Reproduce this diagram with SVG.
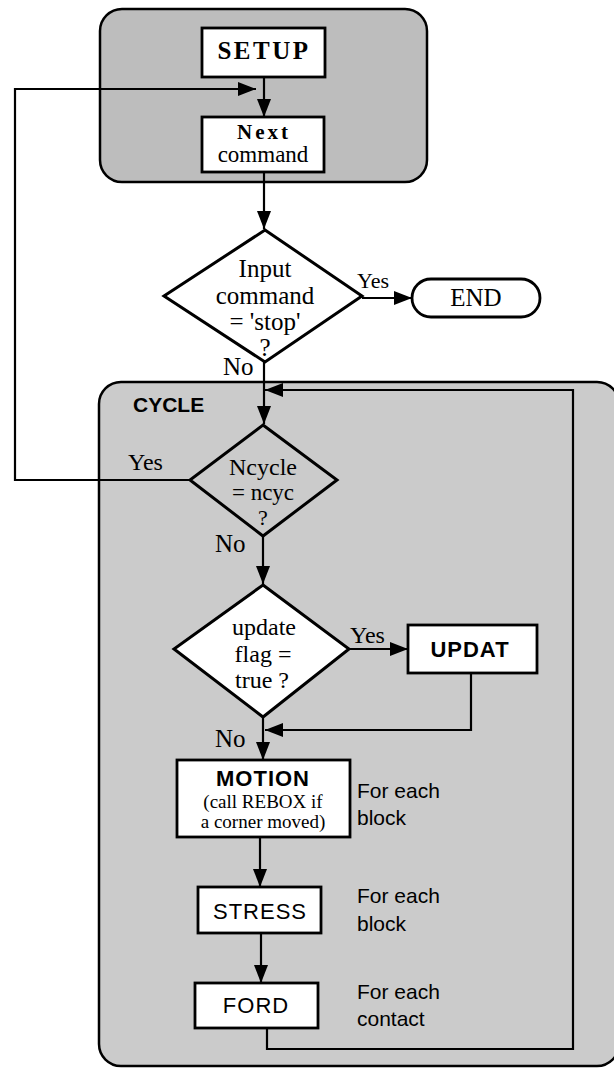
<svg xmlns="http://www.w3.org/2000/svg" width="614" height="1068" viewBox="0 0 614 1068">
<style>
.grp{stroke:#000;stroke-width:2.5}
.box{fill:#fff;stroke:#000;stroke-width:2.8}
.dia{fill:#fff;stroke:#000;stroke-width:3}
.con{fill:none;stroke:#000;stroke-width:2.2}
.serif{font-family:"Liberation Serif","Times New Roman",serif;fill:#000}
.sans{font-family:"Liberation Sans",Arial,sans-serif;fill:#000}
.c{text-anchor:middle}
</style>
<defs>
<marker id="arr" markerUnits="userSpaceOnUse" markerWidth="19" markerHeight="14" refX="18" refY="7" orient="auto">
<path d="M0,0 L18,7 L0,14 z" fill="#000"/>
</marker>
</defs>

<g id="setup-group">
<rect class="grp" x="100" y="9" width="327" height="173" rx="22" fill="#bdbdbd"/>
</g>
<g id="cycle-group">
<rect class="grp" x="99" y="382" width="520" height="684" rx="22" fill="#cbcbcb"/>
<text class="sans" x="133" y="412" font-size="21" font-weight="bold">CYCLE</text>
</g>

<g id="connectors">
<path class="con" d="M264,77 L264,117" marker-end="url(#arr)"/>
<path class="con" d="M190,480 L15,480 L15,89 L256,89" marker-end="url(#arr)"/>
<path class="con" d="M264,172 L264,229" marker-end="url(#arr)"/>
<path class="con" d="M362,298 L412,298" marker-end="url(#arr)"/>
<path class="con" d="M264,362 L264,424" marker-end="url(#arr)"/>
<path class="con" d="M267,1028 L267,1049 L573,1049 L573,390 L265,390" marker-end="url(#arr)"/>
<path class="con" d="M263,536 L263,584" marker-end="url(#arr)"/>
<path class="con" d="M349,649 L408,649" marker-end="url(#arr)"/>
<path class="con" d="M471,673 L471,730 L265,730" marker-end="url(#arr)"/>
<path class="con" d="M263,717 L263,760" marker-end="url(#arr)"/>
<path class="con" d="M260,837 L260,887" marker-end="url(#arr)"/>
<path class="con" d="M261,933 L261,983" marker-end="url(#arr)"/>
<text class="serif" x="357" y="288" font-size="22">Yes</text>
<text class="serif" x="223" y="375" font-size="25">No</text>
<text class="serif" x="128" y="470" font-size="24">Yes</text>
<text class="serif" x="215" y="552" font-size="25">No</text>
<text class="serif" x="350" y="643" font-size="24">Yes</text>
<text class="serif" x="215" y="747" font-size="25">No</text>
</g>

<g id="setup">
<rect class="box" x="202" y="28" width="123" height="49"/>
<text class="serif c" x="264" y="59" font-size="25" font-weight="bold" letter-spacing="2.5">SETUP</text>
</g>
<g id="next-command">
<rect class="box" x="202" y="117" width="122" height="55"/>
<text class="serif c" x="264" y="139" font-size="21" font-weight="bold" letter-spacing="3">Next</text>
<text class="serif c" x="263" y="162" font-size="23">command</text>
</g>
<g id="input-stop">
<polygon class="dia" points="265,230 362,296 265,362 164,296"/>
<text class="serif c" x="265" y="277" font-size="25">Input</text>
<text class="serif c" x="265" y="304" font-size="25">command</text>
<text class="serif c" x="265" y="330" font-size="25">= 'stop'</text>
<text class="serif c" x="265" y="356" font-size="25">?</text>
</g>
<g id="end">
<rect class="box" x="412" y="279" width="128" height="38" rx="19"/>
<text class="serif c" x="476" y="306" font-size="25">END</text>
</g>
<g id="ncycle">
<polygon points="263,425 337,480 263,536 190,480" fill="#cbcbcb" stroke="#000" stroke-width="3"/>
<text class="serif c" x="263" y="475" font-size="24">Ncycle</text>
<text class="serif c" x="263" y="500" font-size="23">= ncyc</text>
<text class="serif c" x="263" y="525" font-size="22">?</text>
</g>
<g id="update-flag">
<polygon class="dia" points="263,585 349,649 263,717 174,649"/>
<text class="serif c" x="264" y="635" font-size="24">update</text>
<text class="serif c" x="263" y="662" font-size="24">flag =</text>
<text class="serif c" x="262" y="688" font-size="24">true ?</text>
</g>
<g id="updat">
<rect class="box" x="408" y="625" width="129" height="48"/>
<text class="sans c" x="470" y="657" font-size="22" font-weight="bold" letter-spacing="1">UPDAT</text>
</g>
<g id="motion">
<rect class="box" x="177" y="760" width="173" height="77"/>
<text class="sans c" x="263" y="786" font-size="22" font-weight="bold" letter-spacing="1">MOTION</text>
<text class="serif c" x="263" y="808" font-size="19">(call REBOX if</text>
<text class="serif c" x="263" y="828" font-size="19">a corner moved)</text>
<text class="sans" x="357" y="798" font-size="21">For each</text>
<text class="sans" x="357" y="825" font-size="21">block</text>
</g>
<g id="stress">
<rect class="box" x="198" y="887" width="123" height="46"/>
<text class="sans c" x="260" y="919" font-size="22" letter-spacing="1">STRESS</text>
<text class="sans" x="357" y="903" font-size="21">For each</text>
<text class="sans" x="357" y="931" font-size="21">block</text>
</g>
<g id="ford">
<rect class="box" x="195" y="983" width="123" height="45"/>
<text class="sans c" x="256" y="1013" font-size="22" letter-spacing="1">FORD</text>
<text class="sans" x="357" y="999" font-size="21">For each</text>
<text class="sans" x="357" y="1026" font-size="21">contact</text>
</g>
</svg>
